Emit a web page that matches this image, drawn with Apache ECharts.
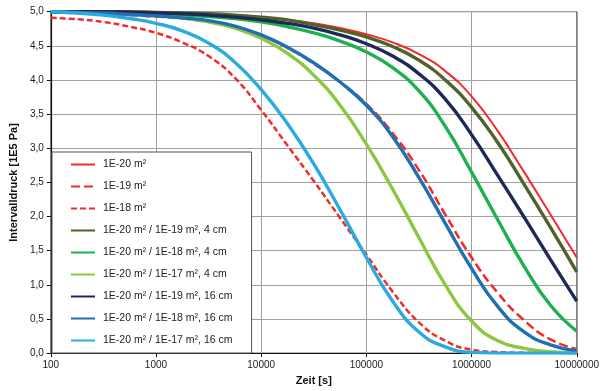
<!DOCTYPE html>
<html>
<head>
<meta charset="utf-8">
<script src="https://cdn.jsdelivr.net/npm/echarts@6/dist/echarts.min.js"></script>
<style>
html,body{margin:0;padding:0;background:#fff;}
#chart{width:602px;height:391px;}
</style>
</head>
<body>
<div id="chart"></div>
<script>
// Time points [s] (quarter decades from 100 to 1e7)
const times = [100, 178, 316, 562, 1000, 1778, 3162, 5623, 10000, 17783, 31623, 56234, 100000, 177828, 316228, 562341, 1000000, 1778279, 3162278, 5623413, 10000000];

const seriesNames = [
  '1E-20 m²',
  '1E-19 m²',
  '1E-18 m²',
  '1E-20 m² / 1E-19 m², 4 cm',
  '1E-20 m² / 1E-18 m², 4 cm',
  '1E-20 m² / 1E-17 m², 4 cm',
  '1E-20 m² / 1E-19 m², 16 cm',
  '1E-20 m² / 1E-18 m², 16 cm',
  '1E-20 m² / 1E-17 m², 16 cm'
];

const k20 = [5.00, 5.00, 5.00, 4.99, 4.99, 4.98, 4.97, 4.95, 4.92, 4.88, 4.83, 4.76, 4.67, 4.55, 4.38, 4.13, 3.76, 3.25, 2.65, 2.03, 1.40];
const k19 = [4.99, 4.98, 4.97, 4.95, 4.93, 4.90, 4.85, 4.77, 4.65, 4.47, 4.24, 3.97, 3.65, 3.22, 2.68, 2.03, 1.40, 0.88, 0.48, 0.20, 0.06];
const k18 = [4.91, 4.89, 4.85, 4.78, 4.69, 4.55, 4.35, 4.03, 3.56, 3.04, 2.52, 1.98, 1.44, 0.90, 0.45, 0.18, 0.05, 0.015, 0.005, 0.00, 0.00];
const l19cm4 = [5.00, 5.00, 5.00, 5.00, 4.99, 4.98, 4.97, 4.95, 4.92, 4.88, 4.81, 4.73, 4.63, 4.49, 4.29, 4.00, 3.60, 3.08, 2.47, 1.84, 1.19];
const l18cm4 = [5.00, 5.00, 4.99, 4.98, 4.97, 4.95, 4.93, 4.90, 4.85, 4.78, 4.69, 4.57, 4.41, 4.18, 3.84, 3.32, 2.65, 1.95, 1.27, 0.70, 0.32];
const l17cm4 = [5.00, 5.00, 4.99, 4.98, 4.95, 4.91, 4.85, 4.76, 4.61, 4.39, 4.07, 3.63, 3.06, 2.40, 1.69, 1.00, 0.47, 0.18, 0.07, 0.02, 0.00];
const l19cm16 = [5.00, 5.00, 5.00, 4.99, 4.98, 4.97, 4.95, 4.92, 4.88, 4.83, 4.76, 4.66, 4.53, 4.35, 4.09, 3.72, 3.20, 2.60, 1.99, 1.37, 0.76];
const l18cm16 = [5.00, 4.99, 4.98, 4.96, 4.94, 4.91, 4.87, 4.79, 4.66, 4.48, 4.25, 3.97, 3.63, 3.17, 2.57, 1.90, 1.24, 0.68, 0.31, 0.12, 0.03];
const l17cm16 = [5.00, 4.98, 4.95, 4.90, 4.83, 4.72, 4.54, 4.26, 3.86, 3.36, 2.77, 2.10, 1.40, 0.76, 0.31, 0.09, 0.01, 0.00, 0.00, 0.00, 0.00];

const yTicks = ['0,0','0,5','1,0','1,5','2,0','2,5','3,0','3,5','4,0','4,5','5,0'];

const valueSets = [k20, k19, k18, l19cm4, l18cm4, l17cm4, l19cm16, l18cm16, l17cm16];
const colors = ['#f42a2a', '#f42a2a', '#f42a2a', '#4f6228', '#1db04e', '#8dc63f', '#1f2858', '#1f6fb4', '#29abe2'];
const widths = [2, 2.5, 2.5, 3.4, 3.4, 3.4, 3.4, 3.4, 3.4];
const dashes = ['solid', [9, 4], [6, 3], 'solid', 'solid', 'solid', 'solid', 'solid', 'solid'];

const FONT = 'Liberation Sans, Arial, sans-serif';

const series = valueSets.map((vals, i) => ({
  name: seriesNames[i],
  type: 'line',
  data: times.map((t, j) => [t, vals[j]]),
  symbol: 'none',
  smooth: 0.5,
  lineStyle: { color: colors[i], width: widths[i], type: dashes[i] },
  itemStyle: { color: colors[i] },
  z: 2 + i
}));

const chart = echarts.init(document.getElementById('chart'), null, { renderer: 'canvas' });
chart.setOption({
  animation: false,
  backgroundColor: '#fff',
  grid: { left: 45.5, right: 20.5, top: 11.7, bottom: 37, show: true, borderColor: '#555', borderWidth: 1 },
  xAxis: {
    type: 'log', logBase: 10, min: 100, max: 10000000,
    name: 'Zeit [s]', nameLocation: 'middle', nameGap: 21,
    nameTextStyle: { fontFamily: FONT, fontSize: 11, fontWeight: 'bold', color: '#111' },
    axisLine: { lineStyle: { color: '#111', width: 1.2 } },
    axisTick: { show: true, length: 4, lineStyle: { color: '#111' } },
    minorTick: { show: false },
    axisLabel: { fontFamily: FONT, fontSize: 10, color: '#222', margin: 7, formatter: v => String(Math.round(v)) },
    splitLine: { show: true, lineStyle: { color: '#a0a0a0', width: 1 } }
  },
  yAxis: {
    type: 'value', min: 0, max: 5, interval: 0.5,
    name: 'Intervalldruck [1E5 Pa]', nameLocation: 'middle', nameGap: 30,
    nameTextStyle: { fontFamily: FONT, fontSize: 11, fontWeight: 'bold', color: '#111' },
    axisLine: { show: true, lineStyle: { color: '#111', width: 1.2 } },
    axisTick: { show: true, length: 4, inside: false, lineStyle: { color: '#111' } },
    axisLabel: { fontFamily: FONT, fontSize: 10, color: '#222', margin: 7, formatter: v => yTicks[Math.round(v * 2)] },
    splitLine: { show: true, lineStyle: { color: '#a0a0a0', width: 1 } }
  },
  legend: {
    orient: 'vertical', left: 52, top: 152,
    padding: [7, 19, 7, 18],
    itemWidth: 24, itemHeight: 12, itemGap: 11,
    backgroundColor: '#fff', borderColor: '#555', borderWidth: 1,
    itemStyle: { opacity: 0 },
    textStyle: { fontFamily: FONT, fontSize: 10.5, color: '#222', padding: [0, 0, 0, 3] },
    data: seriesNames
  },
  series: series
});
</script>
</body>
</html>
